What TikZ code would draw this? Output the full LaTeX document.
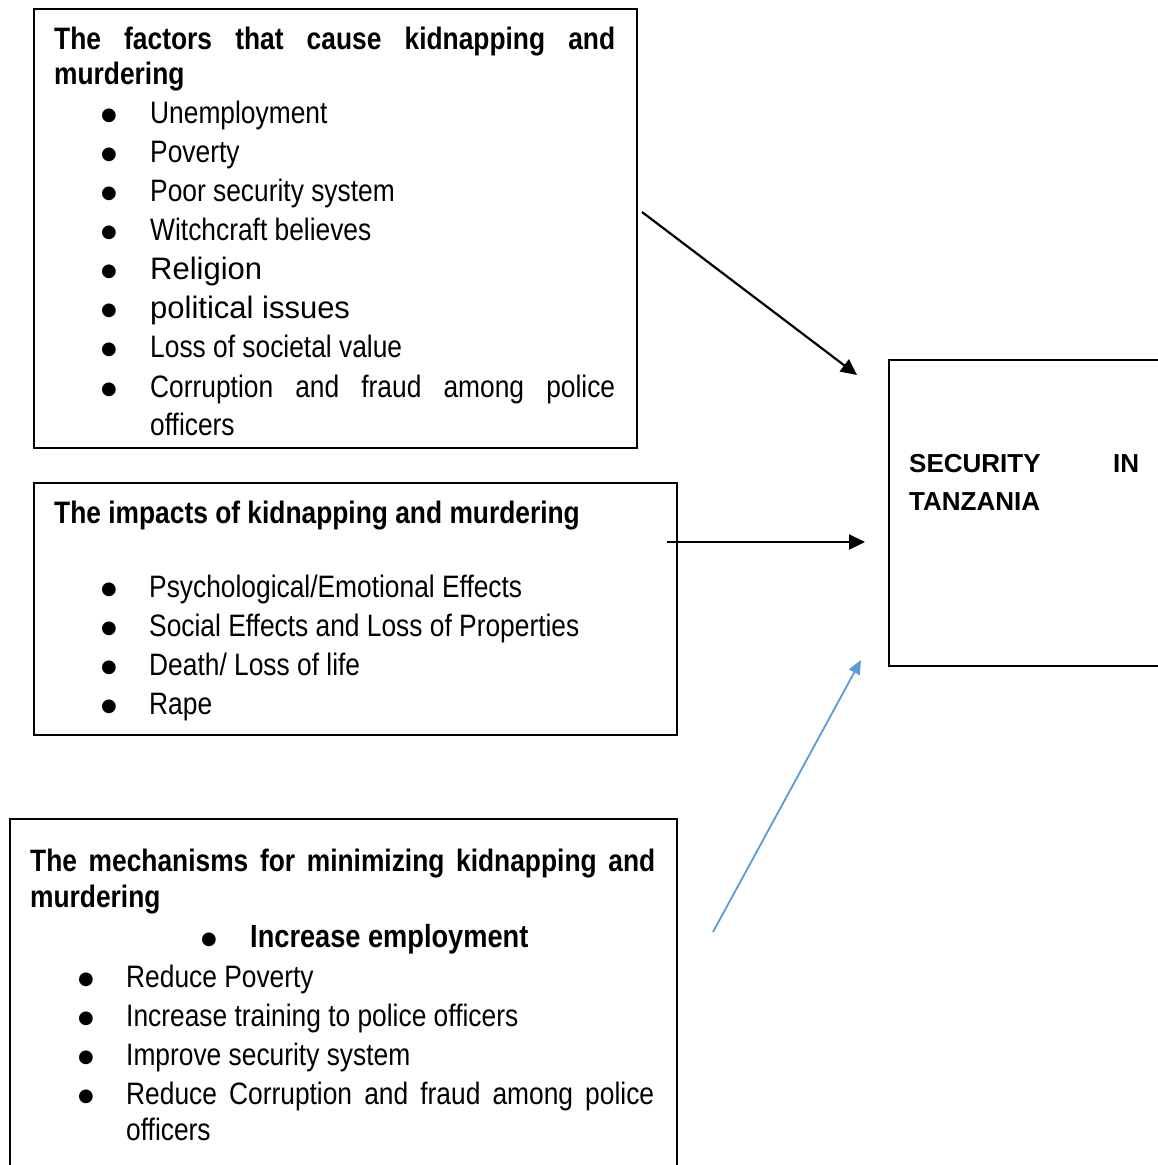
\documentclass[tikz,border=0pt]{standalone}
\usepackage{fontspec}
\setmainfont{Liberation Sans}
\newfontfamily\narrow[FakeStretch=0.85]{Liberation Sans}
\newfontfamily\dejavu{DejaVu Sans}
\usetikzlibrary{arrows.meta}
\definecolor{arrowblue}{HTML}{5B9BD5}
\tikzset{
  box/.style={draw=black, line width=1.6pt, inner sep=0pt, anchor=north west},
  txt/.style={anchor=base west, inner sep=0pt, font=\narrow\fontsize{31}{31}\selectfont},
  bld/.style={anchor=base west, inner sep=0pt, font=\narrow\bfseries\fontsize{31}{31}\selectfont},
  bigbld/.style={anchor=base west, inner sep=0pt, font=\narrow\bfseries\fontsize{32}{32}\selectfont},
  wide/.style={anchor=base west, inner sep=0pt, font=\fontsize{31}{31}\selectfont},
  sec/.style={anchor=base west, inner sep=0pt, font=\bfseries\fontsize{26}{26}\selectfont},
  bul/.style={anchor=base, inner sep=0pt, font=\dejavu\fontsize{18}{18}\selectfont},
  conn/.style={line width=2.2pt, -{Triangle[length=16pt,width=15pt]}},
  blueconn/.style={line width=1.8pt, draw=arrowblue, -{Triangle[length=14pt,width=12pt]}},
}
\newcommand{\bl}{●}
\begin{document}
\begin{tikzpicture}[x=1pt,y=-1pt]
\useasboundingbox (0,0) rectangle (1158,1165);
\clip (0,0) rectangle (1158,1165);

% ---------- Box 1 ----------
\node[box, minimum width=603pt, minimum height=439pt] (b1) at (33,8) {};
\node[bld] (h1a) at (54,49) {\makebox[561pt][s]{The\hfill factors\hfill that\hfill cause\hfill kidnapping\hfill and}};
\node[bld] (h1b) at (54,84) {murdering};
\foreach \y/\t [count=\i] in {123/Unemployment,162/Poverty,201/Poor security system,240/Witchcraft believes,357/Loss of societal value}{
  \node[bul] (b1d\i) at (109,\y-3) {\bl};
  \node[txt] (b1t\i) at (150,\y) {\t};
}
\node[bul] (b1r) at (109,279-3) {\bl};
\node[wide] (b1rt) at (150,279) {Religion};
\node[bul] (b1p) at (109,318-3) {\bl};
\node[wide] (b1pt) at (150,318) {political issues};
\node[bul] (b1c) at (109,397-3) {\bl};
\node[txt] (b1ct) at (150,397) {\makebox[465pt][s]{Corruption\hfill and\hfill fraud\hfill among\hfill police}};
\node[txt] (b1ot) at (150,435) {officers};

% ---------- Box 2 ----------
\node[box, minimum width=643pt, minimum height=252pt] (b2) at (33,482) {};
\node[bld] (h2) at (54,523) {The impacts of kidnapping and murdering};
\foreach \y/\t [count=\i] in {597/{Psychological/Emotional Effects},636/{Social Effects and Loss of Properties},675/{Death/ Loss of life},714/{Rape}}{
  \node[bul] (b2d\i) at (109,\y-3) {\bl};
  \node[txt] (b2t\i) at (149,\y) {\t};
}

% ---------- Box 3 ----------
\node[box, minimum width=667pt, minimum height=360pt] (b3) at (9,818) {};
\node[bld] (h3a) at (30,871) {\makebox[625pt][s]{The\hfill mechanisms\hfill for\hfill minimizing\hfill kidnapping\hfill and}};
\node[bld] (h3b) at (30,907) {murdering};
\node[bul] (b3d0) at (209,947-3) {\bl};
\node[bigbld] (b3t0) at (250,947) {Increase employment};
\foreach \y/\t [count=\i] in {987/Reduce Poverty,1026/Increase training to police officers,1065/Improve security system}{
  \node[bul] (b3d\i) at (86,\y-3) {\bl};
  \node[txt] (b3t\i) at (126,\y) {\t};
}
\node[bul] (b3d4) at (86,1104-3) {\bl};
\node[txt] (b3t4) at (126,1104) {\makebox[528pt][s]{Reduce\hfill Corruption\hfill and\hfill fraud\hfill among\hfill police}};
\node[txt] (b3t5) at (126,1140) {officers};

% ---------- Security box ----------
\node[box, minimum width=290pt, minimum height=306pt] (sec) at (888,359) {};
\node[sec] (s1) at (909,472) {\makebox[230pt][s]{SECURITY\hfill IN}};
\node[sec] (s2) at (909,510) {TANZANIA};

% ---------- Connectors ----------
\coordinate (a1s) at (642,212);
\coordinate (a1e) at (857,375);
\coordinate (a2s) at (667,542);
\coordinate (a2e) at (865,542);
\coordinate (a3s) at (713,932);
\coordinate (a3e) at (861,660);
\draw[conn] (a1s) -- (a1e);
\draw[conn] (a2s) -- (a2e);
\draw[blueconn] (a3s) -- (a3e);
\end{tikzpicture}
\end{document}
